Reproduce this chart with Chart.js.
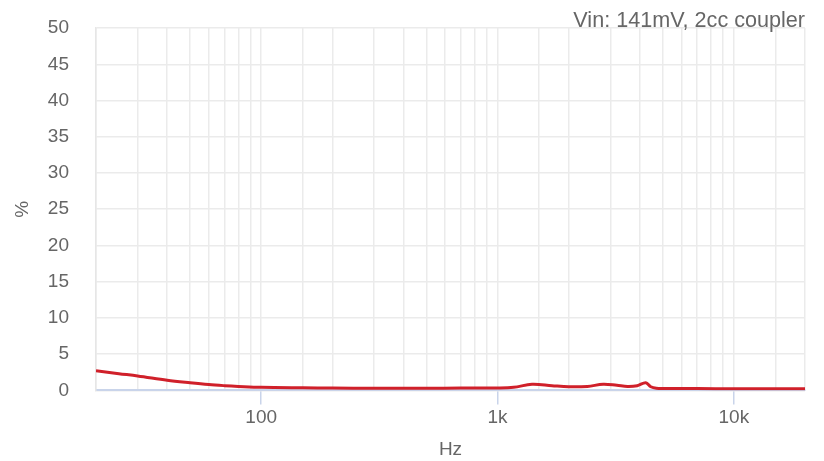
<!DOCTYPE html>
<html>
<head>
<meta charset="utf-8">
<script src="https://cdn.jsdelivr.net/npm/chart.js@4/dist/chart.umd.min.js"></script>
<style>
    html, body { margin: 0; padding: 0; background: #fff; }
    #wrap { width: 824px; height: 461px; }
</style>
</head>
<body>
<div id="wrap"><canvas id="thd-chart"></canvas></div>
<script>
// frequency points (Hz) and distortion (%)
const freqs = [20, 25, 30, 40, 50, 60, 70, 80, 100, 150, 200, 300, 500, 700, 1000, 1170, 1400, 1700, 2000, 2400, 2800, 3200, 3550, 3900, 4240, 4450, 4700, 5500, 7000, 10000, 14000, 20000];
const thd = [2.7, 2.3, 2.0, 1.4, 1.05, 0.8, 0.65, 0.55, 0.42, 0.35, 0.32, 0.3, 0.3, 0.32, 0.33, 0.42, 0.85, 0.65, 0.5, 0.55, 0.85, 0.7, 0.55, 0.65, 1.05, 0.5, 0.3, 0.25, 0.25, 0.22, 0.22, 0.22];
const yTicks = [0, 5, 10, 15, 20, 25, 30, 35, 40, 45, 50];
const xLabels = { 100: "100", 1000: "1k", 10000: "10k" };
const chartTitle = "Vin: 141mV, 2cc coupler";

const points = freqs.map((f, i) => ({ x: f, y: thd[i] }));
const isMajor = v => xLabels[v] !== undefined;

new Chart(document.getElementById("thd-chart"), {
    type: "line",
    data: {
        datasets: [{
            data: points,
            borderColor: "#d0202a",
            borderWidth: 3,
            pointRadius: 0,
            tension: 0.35,
            fill: false
        }]
    },
    options: {
        responsive: true,
        maintainAspectRatio: false,
        animation: false,
        layout: { padding: { left: 0, right: 19, bottom: 0 } },
        plugins: {
            legend: { display: false },
            tooltip: { enabled: false },
            title: {
                display: true,
                text: chartTitle,
                align: "end",
                color: "#666",
                font: { family: "Liberation Sans", size: 21.6, weight: "normal", lineHeight: 0.65 },
                padding: { top: 14, bottom: 0 }
            }
        },
        scales: {
            x: {
                type: "logarithmic",
                min: 20,
                max: 20000,
                border: { color: "#c9d4ea", width: 2 },
                grid: {
                    color: "#ebebeb",
                    lineWidth: 1.5,
                    tickLength: 14,
                    tickColor: ctx => isMajor(ctx.tick && ctx.tick.value) ? "#c9d4ea" : "rgba(0,0,0,0)"
                },
                ticks: {
                    autoSkip: false,
                    maxRotation: 0,
                    color: "#666",
                    padding: 2,
                    font: { family: "Liberation Sans", size: 19 },
                    callback: v => xLabels[v] || ""
                },
                title: {
                    display: true,
                    text: "Hz",
                    color: "#666",
                    font: { family: "Liberation Sans", size: 19 },
                    padding: { top: 7, bottom: 0 }
                }
            },
            y: {
                min: 0,
                max: 50,
                afterBuildTicks: axis => { axis.ticks = yTicks.map(v => ({ value: v })); },
                afterFit: axis => { axis.width = 96; },
                border: { color: "#e6e6e6", width: 1.5 },
                grid: { color: "#ebebeb", lineWidth: 1.5, tickLength: 24, tickColor: "rgba(0,0,0,0)" },
                ticks: {
                    color: "#666",
                    padding: 3,
                    font: { family: "Liberation Sans", size: 19 }
                },
                title: {
                    display: true,
                    text: "%",
                    color: "#666",
                    font: { family: "Liberation Sans", size: 19 },
                    padding: { top: 11, bottom: 0 }
                }
            }
        }
    }
});
</script>
</body>
</html>
